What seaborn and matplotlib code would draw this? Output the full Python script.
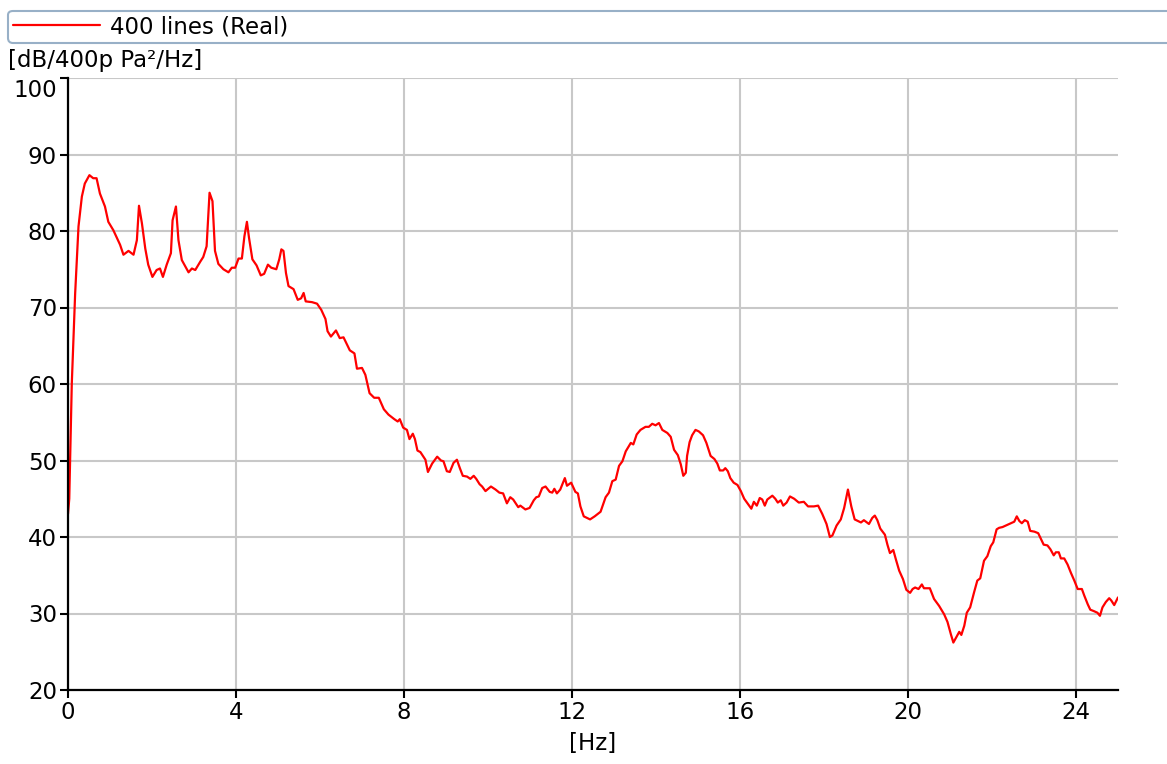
import numpy as np
import pandas as pd
import matplotlib
matplotlib.use('Agg')
import matplotlib.pyplot as plt
import matplotlib.transforms as mtransforms
import seaborn as sns

# Spectrum
freq_hz = [
    0.00, 0.03, 0.09, 0.17, 0.25, 0.33, 0.40, 0.51, 0.60, 0.68, 0.76, 0.88, 0.96,
    1.08, 1.24, 1.32, 1.44, 1.56, 1.64, 1.69, 1.76, 1.84, 1.91, 2.01, 2.11, 2.19,
    2.26, 2.35, 2.45, 2.49, 2.57, 2.63, 2.71, 2.87, 2.95, 3.03, 3.15, 3.22, 3.30,
    3.37, 3.44, 3.50, 3.58, 3.70, 3.82, 3.90, 3.98, 4.06, 4.14, 4.20, 4.26, 4.31,
    4.39, 4.49, 4.59, 4.67, 4.76, 4.84, 4.96, 5.03, 5.08, 5.13, 5.19, 5.25, 5.37,
    5.47, 5.55, 5.61, 5.66, 5.81, 5.93, 6.03, 6.13, 6.18, 6.26, 6.38, 6.47, 6.56,
    6.63, 6.71, 6.82, 6.88, 7.00, 7.08, 7.18, 7.29, 7.40, 7.52, 7.63, 7.77, 7.85,
    7.90, 7.98, 8.07, 8.13, 8.21, 8.26, 8.32, 8.39, 8.51, 8.57, 8.67, 8.79, 8.88,
    8.94, 9.02, 9.09, 9.18, 9.26, 9.33, 9.40, 9.50, 9.58, 9.66, 9.72, 9.80, 9.86,
    9.94, 10.07, 10.18, 10.27, 10.36, 10.45, 10.53, 10.60, 10.72, 10.77, 10.89,
    10.99, 11.09, 11.15, 11.21, 11.29, 11.37, 11.47, 11.53, 11.58, 11.64, 11.72,
    11.83, 11.88, 11.98, 12.08, 12.14, 12.20, 12.28, 12.43, 12.54, 12.68, 12.80,
    12.88, 12.96, 13.04, 13.12, 13.20, 13.28, 13.40, 13.46, 13.54, 13.63, 13.75,
    13.83, 13.91, 13.99, 14.07, 14.15, 14.27, 14.35, 14.43, 14.52, 14.59, 14.65,
    14.71, 14.74, 14.80, 14.86, 14.94, 15.02, 15.12, 15.20, 15.30, 15.39, 15.46,
    15.52, 15.60, 15.65, 15.71, 15.77, 15.85, 15.94, 16.02, 16.10, 16.19, 16.27,
    16.33, 16.40, 16.47, 16.53, 16.59, 16.65, 16.77, 16.84, 16.90, 16.97, 17.03,
    17.11, 17.19, 17.29, 17.40, 17.52, 17.62, 17.76, 17.86, 17.96, 18.06, 18.14,
    18.20, 18.30, 18.40, 18.48, 18.57, 18.65, 18.73, 18.88, 18.95, 19.07, 19.15,
    19.21, 19.27, 19.34, 19.45, 19.51, 19.57, 19.65, 19.71, 19.79, 19.88, 19.96,
    20.05, 20.11, 20.17, 20.25, 20.33, 20.38, 20.52, 20.62, 20.74, 20.86, 20.94,
    21.02, 21.08, 21.16, 21.22, 21.27, 21.34, 21.40, 21.48, 21.57, 21.65, 21.72,
    21.81, 21.89, 21.97, 22.03, 22.11, 22.17, 22.25, 22.37, 22.45, 22.53, 22.59,
    22.65, 22.71, 22.78, 22.85, 22.91, 23.01, 23.10, 23.17, 23.23, 23.32, 23.39,
    23.47, 23.52, 23.59, 23.64, 23.72, 23.80, 23.88, 23.96, 24.04, 24.14, 24.20,
    24.28, 24.34, 24.43, 24.51, 24.57, 24.63, 24.71, 24.79, 24.84, 24.91, 25.00,
]
level_db = [
    43.0, 45.0, 60.0, 71.8, 80.6, 84.5, 86.2, 87.3, 86.9, 86.9, 84.9, 83.2, 81.2,
    80.1, 78.2, 76.9, 77.4, 76.9, 78.8, 83.3, 81.0, 77.7, 75.6, 74.0, 74.9, 75.1,
    74.0, 75.6, 77.1, 81.4, 83.2, 78.8, 76.2, 74.6, 75.1, 74.9, 76.0, 76.6, 78.0,
    85.0, 83.9, 77.4, 75.7, 75.0, 74.6, 75.2, 75.2, 76.4, 76.4, 79.3, 81.2, 79.1,
    76.3, 75.5, 74.2, 74.4, 75.6, 75.2, 75.0, 76.3, 77.6, 77.4, 74.5, 72.8, 72.4,
    71.0, 71.2, 71.9, 70.8, 70.7, 70.5, 69.7, 68.5, 66.9, 66.2, 67.0, 66.0, 66.1,
    65.3, 64.4, 64.0, 62.0, 62.1, 61.2, 58.8, 58.2, 58.2, 56.7, 56.0, 55.4, 55.1,
    55.4, 54.3, 54.0, 52.8, 53.5, 52.8, 51.3, 51.1, 50.1, 48.5, 49.6, 50.5, 50.0,
    49.9, 48.6, 48.5, 49.7, 50.1, 49.0, 48.0, 47.9, 47.6, 48.0, 47.6, 46.9, 46.6,
    46.0, 46.6, 46.2, 45.8, 45.7, 44.4, 45.2, 44.9, 43.9, 44.1, 43.6,
    43.8, 44.8, 45.2, 45.3, 46.4, 46.6, 45.9, 45.8, 46.3, 45.7, 46.2,
    47.7, 46.7, 47.1, 45.9, 45.7, 44.0, 42.7, 42.3, 42.7, 43.3, 45.2,
    45.8, 47.3, 47.5, 49.3, 49.9, 51.2, 52.3, 52.1, 53.4, 54.0, 54.4,
    54.4, 54.8, 54.6, 54.9, 54.0, 53.6, 53.1, 51.4, 50.7, 49.5, 48.0,
    48.4, 50.6, 52.4, 53.3, 54.0, 53.8, 53.3, 52.3, 50.6, 50.2, 49.6,
    48.7, 48.7, 49.0, 48.6, 47.7, 47.1, 46.8, 46.0, 45.0, 44.3, 43.7,
    44.6, 44.1, 45.1, 44.9, 44.1, 44.9, 45.4, 45.0, 44.5, 44.8, 44.1,
    44.5, 45.3, 45.0, 44.5, 44.6, 44.0, 44.0, 44.1, 43.0, 41.7, 40.0,
    40.2, 41.5, 42.3, 43.8, 46.2, 44.0, 42.3, 41.9, 42.2, 41.7, 42.5,
    42.8, 42.2, 41.1, 40.3, 39.0, 37.9, 38.3, 37.1, 35.6, 34.5, 33.1,
    32.7, 33.2, 33.4, 33.2, 33.8, 33.3, 33.3, 31.9, 31.0, 29.9, 28.9,
    27.3, 26.2, 27.0, 27.6, 27.2, 28.4, 30.1, 30.8, 32.7, 34.3, 34.6,
    36.9, 37.5, 38.8, 39.3, 41.0, 41.2, 41.3, 41.6, 41.8, 42.0, 42.7,
    42.1, 41.8, 42.2, 42.0, 40.8, 40.7, 40.5, 39.7, 39.0, 38.9, 38.4,
    37.6, 38.0, 38.0, 37.2, 37.2, 36.4, 35.3, 34.3, 33.2, 33.2, 32.3,
    31.2, 30.5, 30.3, 30.1, 29.7, 30.8, 31.5, 32.0, 31.7, 31.1, 32.1,
]
x_ticks = [0, 4, 8, 12, 16, 20, 24]
y_ticks = [20, 30, 40, 50, 60, 70, 80, 90, 100]

series_label = '400 lines (Real)'
y_unit = '[dB/400p Pa\u00b2/Hz]'
x_unit = '[Hz]'

df = pd.DataFrame({'freq': freq_hz, 'level': level_db})

sns.set_style('white')
plt.rcParams['font.family'] = ['DejaVu Sans']
plt.rcParams['text.color'] = 'black'
plt.rcParams['xtick.color'] = 'black'
plt.rcParams['ytick.color'] = 'black'
plt.rcParams['axes.labelcolor'] = 'black'

FS = 16.5

fig = plt.figure(figsize=(11.67, 7.64), dpi=100)
W, H = 1167, 764
ax = fig.add_axes([68 / W, 1 - 690 / H, (1118 - 68) / W, (690 - 78) / H])

sns.lineplot(data=df, x='freq', y='level', color='#ff0000', linewidth=1.6,
             label=series_label, ax=ax, zorder=3)

ax.set_xlim(0, 25)
ax.set_ylim(20, 100)
ax.set_xticks(x_ticks)
ax.set_yticks(y_ticks)
ax.tick_params(axis='both', labelsize=FS, length=6, width=1.5,
               color='black', direction='out', pad=2,
               bottom=True, left=True)
ax.grid(True, color='#c8c8c8', linewidth=1.5)
ax.set_axisbelow(True)

# top tick label sits just below its gridline, as in the original
top_label = ax.get_yticklabels()[-1]
top_label.set_transform(top_label.get_transform() +
                        mtransforms.ScaledTranslation(0, -0.10, fig.dpi_scale_trans))

for side in ['top', 'right']:
    ax.spines[side].set_visible(False)
for side in ['left', 'bottom']:
    ax.spines[side].set_color('black')
    ax.spines[side].set_linewidth(1.6)
    ax.spines[side].set_zorder(4)

ax.set_xlabel(x_unit, fontsize=FS, labelpad=6)
ax.set_ylabel('')
fig.text(8 / W, 1 - 61 / H, y_unit, fontsize=FS, ha='left', va='center')

# Legend stretched across the top, running off the right edge
ax.get_legend().remove()
handles, labels = ax.get_legend_handles_labels()
leg = fig.legend(handles, labels, loc='lower left', mode='expand',
                 bbox_to_anchor=(8 / W, 1 - 43 / H, 1.05, 33 / H),
                 fontsize=FS, handlelength=3.8, handletextpad=0.45,
                 borderpad=0.2, borderaxespad=0, fancybox=True,
                 frameon=True)
leg.get_frame().set_edgecolor('#7f9db9')
leg.get_frame().set_linewidth(1.5)

fig.savefig('out.png', dpi=100)
plt.close(fig)
